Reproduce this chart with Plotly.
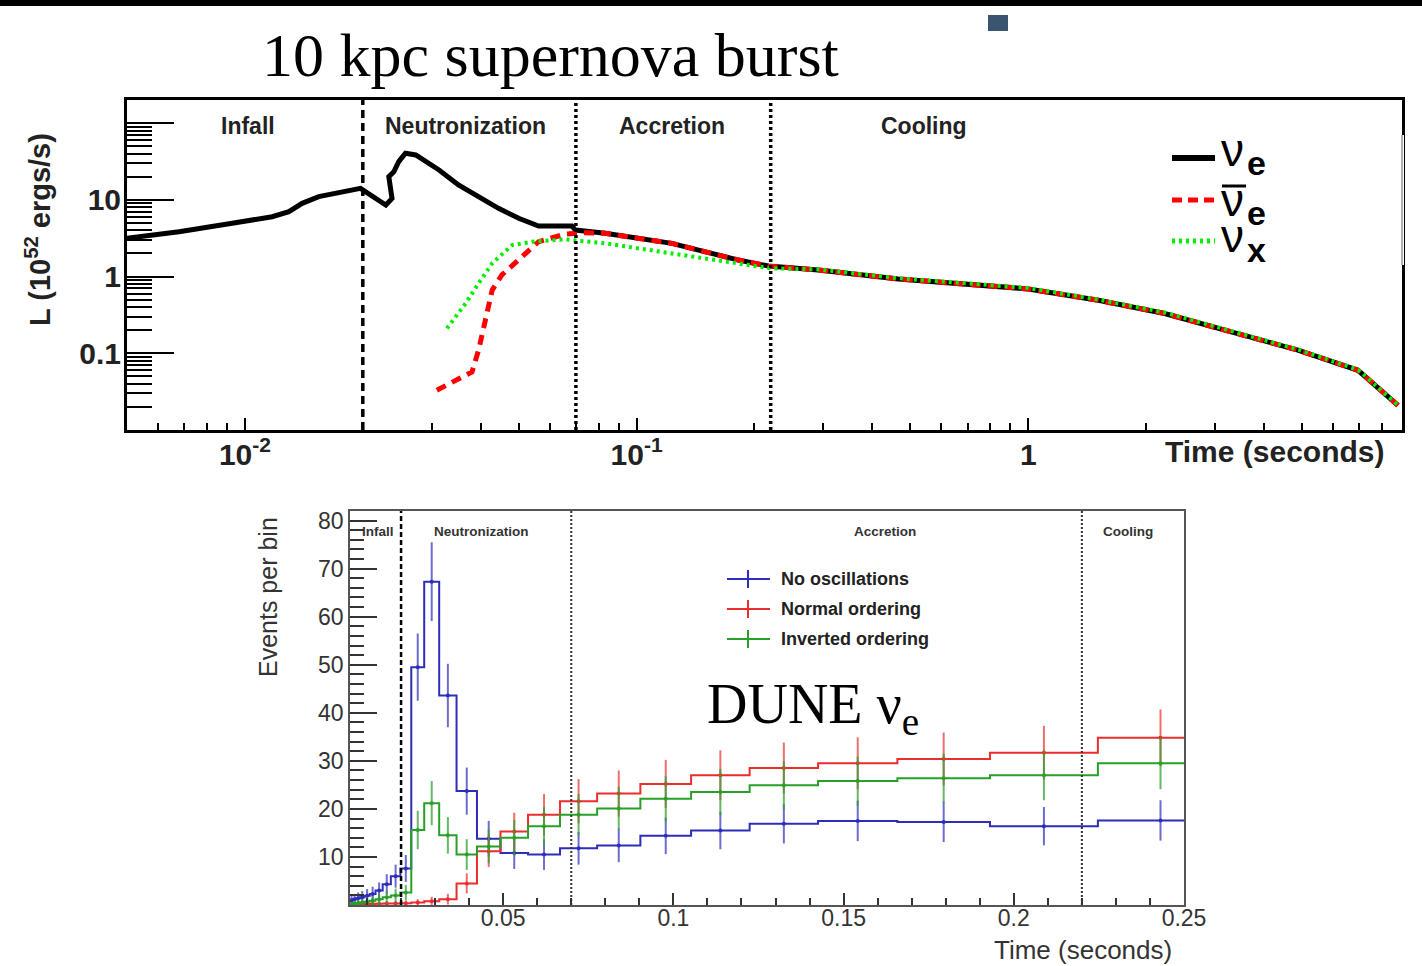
import math
import plotly.graph_objects as go

W, H = 1422, 966

# ---------------- top panel: luminosity vs time (10 kpc supernova) ----------------
t_nue = [0.00496, 0.00679, 0.00928, 0.01174, 0.01295, 0.0140, 0.01544, 0.01807, 0.01973,
         0.0229, 0.02375, 0.0233, 0.0240, 0.0247, 0.0257, 0.0273, 0.0289, 0.0313, 0.0351,
         0.0395, 0.0444, 0.0500, 0.0562, 0.0684, 0.0698, 0.0832, 0.101, 0.123, 0.150,
         0.182, 0.217, 0.291, 0.466, 1.0, 1.51, 2.23, 3.30, 4.88, 6.95, 7.95, 8.79]
L_nue = [3.15, 3.84, 4.94, 6.02, 7.0, 9.0, 11.0, 12.8, 14.1,
         8.55, 10.4, 20.0, 23.2, 31.4, 40.4, 38.4, 31.4, 24.5, 15.6,
         11.0, 7.75, 5.74, 4.55, 4.55, 4.04, 3.66, 3.15, 2.71, 2.10,
         1.64, 1.37, 1.22, 0.93, 0.69, 0.49, 0.33, 0.19, 0.110, 0.060, 0.033, 0.021]

t_nuebar = [0.0309, 0.0380, 0.0395, 0.0411, 0.0428, 0.0453, 0.0500, 0.0562, 0.0657, 0.0738,
            0.0832, 0.101, 0.123, 0.150, 0.182, 0.217, 0.291, 0.466, 1.0, 1.51, 2.23,
            3.30, 4.88, 6.95, 7.95, 8.79]
L_nuebar = [0.033, 0.057, 0.110, 0.271, 0.667, 1.05, 1.64, 2.84, 3.58, 3.72,
            3.66, 3.15, 2.71, 2.10, 1.64, 1.37, 1.22, 0.93, 0.69, 0.49, 0.33,
            0.19, 0.110, 0.060, 0.033, 0.021]

t_nux = [0.0328, 0.0366, 0.0395, 0.0428, 0.0481, 0.0541, 0.0657, 0.0832, 0.123, 0.182,
         0.220, 0.291, 0.466, 1.0, 1.51, 2.23, 3.30, 4.88, 6.95, 7.95, 8.79]
L_nux = [0.211, 0.447, 0.815, 1.49, 2.57, 2.84, 3.05, 2.71, 2.0, 1.49,
         1.28, 1.24, 0.95, 0.71, 0.50, 0.34, 0.195, 0.112, 0.061, 0.033, 0.021]

phase_bounds = [0.02, 0.07, 0.22]
phase_names = ["Infall", "Neutronization", "Accretion", "Cooling"]

top_xticks = [0.01, 0.1, 1]
top_xticktext = ["10<sup>-2</sup>", "10<sup>-1</sup>", "1"]
top_yticks = [0.1, 1, 10, 100]
top_yticktext = ["0.1", "1", "10", ""]

# ---------------- bottom panel: DUNE nu_e events per bin ----------------
bin_edges = [0.00504, 0.00587, 0.00683, 0.00795, 0.00926, 0.0108, 0.0125, 0.0146, 0.0170,
             0.0198, 0.0230, 0.0268, 0.0312, 0.0363, 0.0423, 0.0492, 0.0573, 0.0667,
             0.0776, 0.0903, 0.1052, 0.1224, 0.1425, 0.1658, 0.1930, 0.2247, 0.2615]
ev_noosc = [1.0, 1.2, 1.4, 1.6, 1.9, 2.3, 3.0, 4.3, 6.0, 7.6, 49.5, 67.3, 43.6, 23.7,
            13.8, 10.8, 10.5, 11.8, 12.4, 14.4, 15.5, 16.9, 17.5, 17.3, 16.4, 17.6]
err_noosc = [1.0, 1.1, 1.2, 1.3, 1.4, 1.5, 1.7, 2.1, 2.4, 2.8, 7.0, 8.2, 6.6, 4.9,
             3.7, 3.3, 3.2, 3.4, 3.5, 3.8, 3.9, 4.1, 4.2, 4.2, 4.0, 4.2]
ev_normal = [0.1, 0.1, 0.15, 0.15, 0.2, 0.2, 0.25, 0.3, 0.3, 0.35, 0.5, 0.8, 1.2, 4.5,
             11.2, 15.3, 18.8, 21.6, 23.2, 25.2, 27.0, 28.5, 29.5, 30.4, 31.7, 34.8]
err_normal = [0.3, 0.3, 0.4, 0.4, 0.4, 0.4, 0.5, 0.5, 0.5, 0.6, 0.7, 0.9, 1.1, 2.1,
              3.3, 3.9, 4.3, 4.6, 4.8, 5.0, 5.2, 5.3, 5.4, 5.5, 5.6, 5.9]
ev_inverted = [0.2, 0.3, 0.4, 0.5, 0.7, 0.9, 1.2, 1.6, 2.0, 2.6, 15.6, 21.2, 14.5, 10.5,
               12.2, 14.0, 16.4, 18.8, 20.1, 22.1, 23.5, 24.9, 25.8, 26.4, 27.0, 29.5]
err_inverted = [0.4, 0.5, 0.6, 0.7, 0.8, 0.9, 1.1, 1.3, 1.4, 1.6, 4.0, 4.6, 3.8, 3.2,
                3.5, 3.7, 4.0, 4.3, 4.5, 4.7, 4.8, 5.0, 5.1, 5.1, 5.2, 5.4]
hist_names = ["No oscillations", "Normal ordering", "Inverted ordering"]

bot_xticks = [0.05, 0.1, 0.15, 0.2, 0.25]
bot_xticktext = ["0.05", "0.1", "0.15", "0.2", "0.25"]
bot_yticks = [10, 20, 30, 40, 50, 60, 70, 80]


# ---------------- helpers ----------------
def px(x):
    return x / W


def py(y):
    return 1 - y / H


SANS = "Liberation Sans"
SERIF = "Liberation Serif"
XMIN_T, XMAX_T = 0.005, 9.0
YMIN_T, YMAX_T = 0.01, 200

fig = go.Figure()

# top panel curves
fig.add_trace(go.Scatter(x=t_nue, y=L_nue, mode="lines", xaxis="x", yaxis="y",
                         line=dict(color="black", width=5), showlegend=False))
fig.add_trace(go.Scatter(x=t_nuebar, y=L_nuebar, mode="lines", xaxis="x", yaxis="y",
                         line=dict(color="#ff0000", width=5, dash="10px,7px"), showlegend=False))
fig.add_trace(go.Scatter(x=t_nux, y=L_nux, mode="lines", xaxis="x", yaxis="y",
                         line=dict(color="#00ee00", width=4, dash="3px,4px"), showlegend=False))

# top panel phase boundaries (drawn as data lines on the log axes)
top_dash = ["8px,5px", "3px,3px", "3px,3px"]
for b, dsh in zip(phase_bounds, top_dash):
    fig.add_trace(go.Scatter(x=[b, b], y=[YMIN_T, YMAX_T], mode="lines", xaxis="x", yaxis="y",
                             line=dict(color="black", width=3.5, dash=dsh), showlegend=False,
                             hoverinfo="skip"))

# bottom panel histograms
colors = ["rgb(45,45,185)", "rgb(235,45,45)", "rgb(40,160,40)"]
ebar_colors = ["rgba(60,60,190,0.75)", "rgba(235,60,60,0.75)", "rgba(50,160,50,0.75)"]
centers = [(bin_edges[i] + bin_edges[i + 1]) / 2 for i in range(len(bin_edges) - 1)]
for vals, errs, col, ecol, name in zip([ev_noosc, ev_normal, ev_inverted],
                                        [err_noosc, err_normal, err_inverted],
                                        colors, ebar_colors, hist_names):
    fig.add_trace(go.Scatter(x=bin_edges, y=vals + [vals[-1]], mode="lines",
                             line=dict(color=col, width=2, shape="hv"),
                             xaxis="x2", yaxis="y2", showlegend=False, name=name))
    fig.add_trace(go.Scatter(x=centers, y=vals, mode="markers",
                             marker=dict(color=col, size=4),
                             error_y=dict(type="data", array=errs, visible=True,
                                          thickness=2, width=0, color=ecol),
                             xaxis="x2", yaxis="y2", showlegend=False, name=name))

shapes = []
annotations = []

# top black band and small square
shapes.append(dict(type="rect", xref="paper", yref="paper", x0=0, x1=1, y0=py(6), y1=1,
                   fillcolor="black", line=dict(width=0)))
shapes.append(dict(type="rect", xref="paper", yref="paper", x0=px(988), x1=px(1008),
                   y0=py(31), y1=py(15), fillcolor="#3b5570", line=dict(width=0)))

# bottom phase boundaries (linear axis)
bot_styles = [dict(color="black", width=2.5, dash="5px,3px"),
              dict(color="#333", width=2, dash="2px,2px"),
              dict(color="#333", width=2, dash="2px,2px")]
for b, st in zip(phase_bounds, bot_styles):
    shapes.append(dict(type="line", xref="x2", yref="y2 domain", x0=b, x1=b,
                       y0=0, y1=1, line=st, layer="above"))

# gray segment on the right border of the top frame
shapes.append(dict(type="line", xref="paper", yref="paper", x0=px(1402), x1=px(1402),
                   y0=py(265), y1=py(135), line=dict(color="white", width=4)))
shapes.append(dict(type="line", xref="paper", yref="paper", x0=px(1402), x1=px(1402),
                   y0=py(265), y1=py(135), line=dict(color="#b0b0b0", width=2)))

# phase labels
for name, xc in zip(phase_names, [248, 466, 672, 924]):
    annotations.append(dict(text=name, xref="paper", yref="paper", x=px(xc), y=py(126),
                            xanchor="center", yanchor="middle", showarrow=False,
                            font=dict(family=SANS, size=23, color="#222", weight="bold")))
for name, xc in zip(phase_names, [378, 481, 885, 1128]):
    annotations.append(dict(text=name, xref="paper", yref="paper", x=px(xc), y=py(531),
                            xanchor="center", yanchor="middle", showarrow=False,
                            font=dict(family=SANS, size=13.5, color="#333", weight="bold")))

# top legend
leg_top = [("black", "solid", 6, 158), ("#ff0000", "10px,6px", 5, 200), ("#00ee00", "3px,4px", 5, 241)]
for col, dash, wdt, yy in leg_top:
    shapes.append(dict(type="line", xref="paper", yref="paper", x0=px(1172), x1=px(1215),
                       y0=py(yy), y1=py(yy), line=dict(color=col, width=wdt, dash=dash)))
for yy, sub, ysub in [(150, "e", 163), (200, "e", 213), (236, "x", 250)]:
    annotations.append(dict(text="ν", xref="paper", yref="paper", x=px(1219), y=py(yy),
                            xanchor="left", yanchor="middle", showarrow=False,
                            font=dict(family=SANS, size=46, color="black")))
    annotations.append(dict(text=sub, xref="paper", yref="paper", x=px(1245), y=py(ysub),
                            xanchor="left", yanchor="middle", showarrow=False,
                            font=dict(family=SANS, size=34, color="black", weight="bold")))
shapes.append(dict(type="line", xref="paper", yref="paper", x0=px(1222), x1=px(1246),
                   y0=py(186), y1=py(186), line=dict(color="black", width=3)))

# bottom legend
for i, (col, name) in enumerate(zip(colors, hist_names)):
    yy = 579 + 30 * i
    shapes.append(dict(type="line", xref="paper", yref="paper", x0=px(727), x1=px(770),
                       y0=py(yy), y1=py(yy), line=dict(color=col, width=2)))
    shapes.append(dict(type="line", xref="paper", yref="paper", x0=px(748), x1=px(748),
                       y0=py(yy + 9), y1=py(yy - 9), line=dict(color=col, width=2)))
    annotations.append(dict(text=name, xref="paper", yref="paper", x=px(779), y=py(yy),
                            xanchor="left", yanchor="middle", showarrow=False,
                            font=dict(family=SANS, size=18, color="#222", weight="bold")))

# titles
annotations.append(dict(text="10 kpc supernova burst", xref="paper", yref="paper",
                        x=px(550), y=py(55), xanchor="center", yanchor="middle", showarrow=False,
                        font=dict(family=SERIF, size=62, color="black")))
annotations.append(dict(text="DUNE ν<sub>e</sub>", xref="paper", yref="paper",
                        x=px(705), y=py(708), xanchor="left", yanchor="middle", showarrow=False,
                        font=dict(family=SERIF, size=56, color="black")))

# axis titles
annotations.append(dict(text="L (10<sup>52</sup> ergs/s)", xref="paper", yref="paper",
                        x=px(38), y=py(230), xanchor="center", yanchor="middle", textangle=-90,
                        showarrow=False, font=dict(family=SANS, size=29, color="#222", weight="bold")))
annotations.append(dict(text="Time (seconds)", xref="paper", yref="paper",
                        x=px(1275), y=py(452), xanchor="center", yanchor="middle",
                        showarrow=False, font=dict(family=SANS, size=30, color="#222", weight="bold")))
annotations.append(dict(text="Events per bin", xref="paper", yref="paper",
                        x=px(268), y=py(597), xanchor="center", yanchor="middle", textangle=-90,
                        showarrow=False, font=dict(family=SANS, size=25, color="#333")))
annotations.append(dict(text="Time (seconds)", xref="paper", yref="paper",
                        x=px(1083), y=py(950), xanchor="center", yanchor="middle",
                        showarrow=False, font=dict(family=SANS, size=26, color="#333")))

top_xminor = [m * 10 ** k for k in (-3, -2, -1, 0) for m in range(2, 10)
              if XMIN_T <= m * 10 ** k <= XMAX_T]
top_yminor = [m * 10 ** k for k in (-2, -1, 0, 1, 2) for m in range(2, 10)
              if YMIN_T <= m * 10 ** k <= YMAX_T]

fig.update_layout(
    width=W, height=H, autosize=False, margin=dict(l=0, r=0, t=0, b=0, pad=0),
    paper_bgcolor="white", plot_bgcolor="white", showlegend=False,
    xaxis=dict(type="log", domain=[px(127), px(1402)], automargin=False,
               range=[math.log10(XMIN_T), math.log10(XMAX_T)], anchor="y",
               showline=True, linecolor="black", linewidth=3, mirror=True,
               showgrid=False, zeroline=False,
               ticks="inside", ticklen=12, tickwidth=2, tickcolor="black",
               tickvals=top_xticks, ticktext=top_xticktext, ticklabelstandoff=-4,
               tickfont=dict(family=SANS, size=30, color="#222", weight="bold"),
               minor=dict(ticks="inside", ticklen=7, tickwidth=2, tickcolor="black",
                          tickvals=top_xminor, showgrid=False)),
    yaxis=dict(type="log", domain=[py(430), py(100)], automargin=False,
               range=[math.log10(YMIN_T), math.log10(YMAX_T)], anchor="x",
               showline=True, linecolor="black", linewidth=3, mirror=True,
               showgrid=False, zeroline=False,
               ticks="inside", ticklen=47, tickwidth=2, tickcolor="black",
               tickvals=top_yticks, ticktext=top_yticktext, ticklabelstandoff=-3,
               tickfont=dict(family=SANS, size=30, color="#222", weight="bold"),
               minor=dict(ticks="inside", ticklen=25, tickwidth=2, tickcolor="black",
                          tickvals=top_yminor, showgrid=False)),
    xaxis2=dict(domain=[px(350), px(1184)], range=[0.005, 0.25], anchor="y2", automargin=False,
                showline=True, linecolor="#555", linewidth=1.5, mirror=True,
                showgrid=False, zeroline=False,
                ticks="inside", ticklen=12, tickwidth=1.5, tickcolor="#333",
                tickvals=bot_xticks, ticktext=bot_xticktext, ticklabelstandoff=-8,
                tickfont=dict(family=SANS, size=23, color="#333"),
                minor=dict(ticks="inside", ticklen=7, tickwidth=1.5, tickcolor="#333",
                           dtick=0.01, tick0=0, showgrid=False)),
    yaxis2=dict(domain=[py(905), py(511)], range=[0, 82], anchor="x2", automargin=False,
                showline=True, linecolor="#555", linewidth=1.5, mirror=True,
                showgrid=False, zeroline=False,
                ticks="inside", ticklen=27, tickwidth=1.5, tickcolor="#333",
                tickvals=bot_yticks,
                tickfont=dict(family=SANS, size=23, color="#333"),
                minor=dict(ticks="inside", ticklen=14, tickwidth=1.5, tickcolor="#333",
                           dtick=2, tick0=0, showgrid=False)),
    shapes=shapes, annotations=annotations,
)

fig.write_html("out.html")
